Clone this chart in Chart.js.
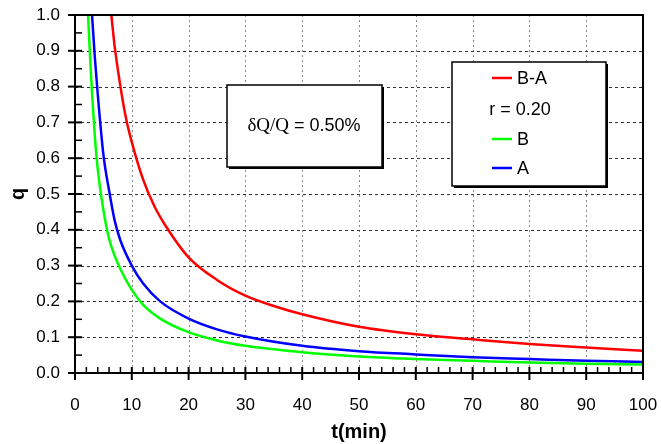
<!DOCTYPE html>
<html>
<head>
<meta charset="utf-8">
<script src="https://cdn.jsdelivr.net/npm/chart.js@4.4.0/dist/chart.umd.min.js"></script>
<style>
  html, body { margin: 0; padding: 0; background: #fff; }
</style>
</head>
<body>
<canvas id="chart" width="661" height="444"></canvas>
<script>
// curve B (green)
const tB = [2.3, 2.6, 3, 3.5, 4, 5, 6, 7, 8, 10, 12, 15, 20, 25, 30, 40, 50, 60, 70, 80, 90, 100];
const qB = [1.0, 0.9, 0.78, 0.66, 0.57, 0.455, 0.375, 0.327, 0.29, 0.232, 0.19, 0.152, 0.114, 0.091, 0.076, 0.058, 0.046, 0.039, 0.034, 0.029, 0.026, 0.024];
// curve A (blue)
const tA = [3.0, 3.5, 4, 5, 6, 7, 8, 10, 12, 15, 20, 25, 30, 40, 50, 60, 70, 80, 90, 100];
const qA = [1.0, 0.88, 0.78, 0.61, 0.51, 0.425, 0.37, 0.3, 0.25, 0.2, 0.152, 0.122, 0.102, 0.076, 0.061, 0.052, 0.044, 0.039, 0.034, 0.031];
// curve B-A (red)
const tBA = [6.4, 7, 8, 9, 10, 12, 14, 16, 20, 25, 30, 35, 40, 50, 60, 70, 80, 90, 100];
const qBA = [1.0, 0.91, 0.8, 0.71, 0.645, 0.54, 0.465, 0.41, 0.323, 0.26, 0.216, 0.187, 0.164, 0.129, 0.108, 0.094, 0.081, 0.071, 0.062];

const FONT = 'Liberation Sans, Arial, sans-serif';
const legendNote = 'r = 0.20';

const pts = (ts, qs) => ts.map((t, i) => ({ x: t, y: qs[i] }));

function shadowBox(ctx, x, y, w, h) {
  ctx.fillStyle = '#000';
  ctx.fillRect(x + 2, y + 2, w, h);
  ctx.fillStyle = '#fff';
  ctx.fillRect(x, y, w, h);
  ctx.lineWidth = 1.5;
  ctx.strokeStyle = '#000';
  ctx.strokeRect(x, y, w, h);
}

// grid, ticks, frame and the two boxes
const frame = {
  id: 'frame',
  beforeDatasetsDraw(chart) {
    const { ctx, chartArea: a, scales: { x, y } } = chart;
    ctx.save();
    ctx.lineWidth = 1;
    ctx.strokeStyle = '#888';
    ctx.setLineDash([2, 3]);
    for (let k = 1; k < 10; k++) {
      const px = Math.round(x.getPixelForValue(k * 10)) + 0.5;
      ctx.beginPath(); ctx.moveTo(px, a.top); ctx.lineTo(px, a.bottom); ctx.stroke();
    }
    ctx.strokeStyle = '#333';
    ctx.setLineDash([3, 3]);
    for (let k = 1; k < 10; k++) {
      const py = Math.round(y.getPixelForValue(k / 10)) + 0.5;
      ctx.beginPath(); ctx.moveTo(a.left, py); ctx.lineTo(a.right, py); ctx.stroke();
    }
    ctx.restore();
  },
  afterDatasetsDraw(chart) {
    const { ctx, chartArea: a, scales: { x, y } } = chart;
    ctx.save();
    ctx.strokeStyle = '#000';
    ctx.lineWidth = 2;
    ctx.strokeRect(a.left, a.top, a.right - a.left, a.bottom - a.top);

    // x ticks
    for (let k = 0; k <= 50; k++) {
      const px = x.getPixelForValue(k * 2);
      ctx.lineWidth = k % 5 === 0 ? 2 : 1.5;
      ctx.beginPath();
      ctx.moveTo(px, a.bottom - 6);
      ctx.lineTo(px, k % 5 === 0 ? a.bottom + 7 : a.bottom);
      ctx.stroke();
    }
    // y ticks
    for (let k = 0; k <= 20; k++) {
      const py = y.getPixelForValue(k / 20);
      ctx.lineWidth = k % 2 === 0 ? 2 : 1.5;
      ctx.beginPath();
      ctx.moveTo(k % 2 === 0 ? a.left - 7 : a.left, py);
      ctx.lineTo(a.left + 7, py);
      ctx.stroke();
    }

    // annotation box
    shadowBox(ctx, 227, 85, 155, 82);
    ctx.fillStyle = '#000';
    ctx.textBaseline = 'middle';
    ctx.textAlign = 'left';
    const p1 = 'δQ/Q', p2 = ' = 0.50%';
    ctx.font = '19px "Liberation Serif", "Times New Roman", serif';
    const w1 = ctx.measureText(p1).width;
    ctx.font = '18px ' + FONT;
    const w2 = ctx.measureText(p2).width;
    const sx = 304 - (w1 + w2) / 2;
    ctx.font = '19px "Liberation Serif", "Times New Roman", serif';
    ctx.fillText(p1, sx, 126);
    ctx.font = '18px ' + FONT;
    ctx.fillText(p2, sx + w1, 126);

    // legend box
    shadowBox(ctx, 452, 62, 154, 124);
    const ds = chart.data.datasets;
    const rows = [[ds[0], 78], [ds[1], 139], [ds[2], 168]];
    rows.forEach(([d, ry]) => {
      ctx.strokeStyle = d.borderColor;
      ctx.lineWidth = 2.5;
      ctx.beginPath(); ctx.moveTo(492, ry); ctx.lineTo(512, ry); ctx.stroke();
      ctx.fillStyle = '#000';
      ctx.textAlign = 'left';
      ctx.fillText(d.label, 517, ry + 1);
    });
    ctx.textAlign = 'center';
    ctx.fillText(legendNote, 520, 110);
    ctx.restore();
  }
};

new Chart(document.getElementById('chart'), {
  type: 'line',
  data: {
    datasets: [
      { label: 'B-A', data: pts(tBA, qBA), borderColor: '#ff0000' },
      { label: 'B', data: pts(tB, qB), borderColor: '#00ff00' },
      { label: 'A', data: pts(tA, qA), borderColor: '#0000ff' }
    ].map(d => Object.assign(d, { borderWidth: 2.5, pointRadius: 0, fill: false, cubicInterpolationMode: 'monotone' }))
  },
  options: {
    responsive: false,
    animation: false,
    layout: { padding: { top: 15, right: 0, left: 0, bottom: 0 } },
    plugins: { legend: { display: false }, tooltip: { enabled: false } },
    scales: {
      x: {
        type: 'linear', min: 0, max: 100,
        ticks: { stepSize: 10, maxRotation: 0, padding: 22, color: '#000', font: { family: FONT, size: 17 } },
        grid: { display: false, drawTicks: false, tickLength: 0 },
        border: { display: false },
        title: { display: true, text: 't(min)', color: '#000', font: { family: FONT, size: 20, weight: 'bold' }, padding: { top: 0, bottom: 0 } },
        afterFit: s => { s.height = 71; s.paddingRight = 18; s.paddingLeft = 0; }
      },
      y: {
        min: 0, max: 1,
        ticks: { stepSize: 0.1, padding: 15, color: '#000', font: { family: FONT, size: 17 }, callback: v => v.toFixed(1) },
        grid: { display: false, drawTicks: false, tickLength: 0 },
        border: { display: false },
        title: { display: true, text: 'q', color: '#000', font: { family: FONT, size: 20, weight: 'bold' }, padding: { top: 6, bottom: 0 } },
        afterFit: s => { s.width = 75; s.paddingTop = 0; s.paddingBottom = 0; }
      }
    }
  },
  plugins: [frame]
});
</script>
</body>
</html>
